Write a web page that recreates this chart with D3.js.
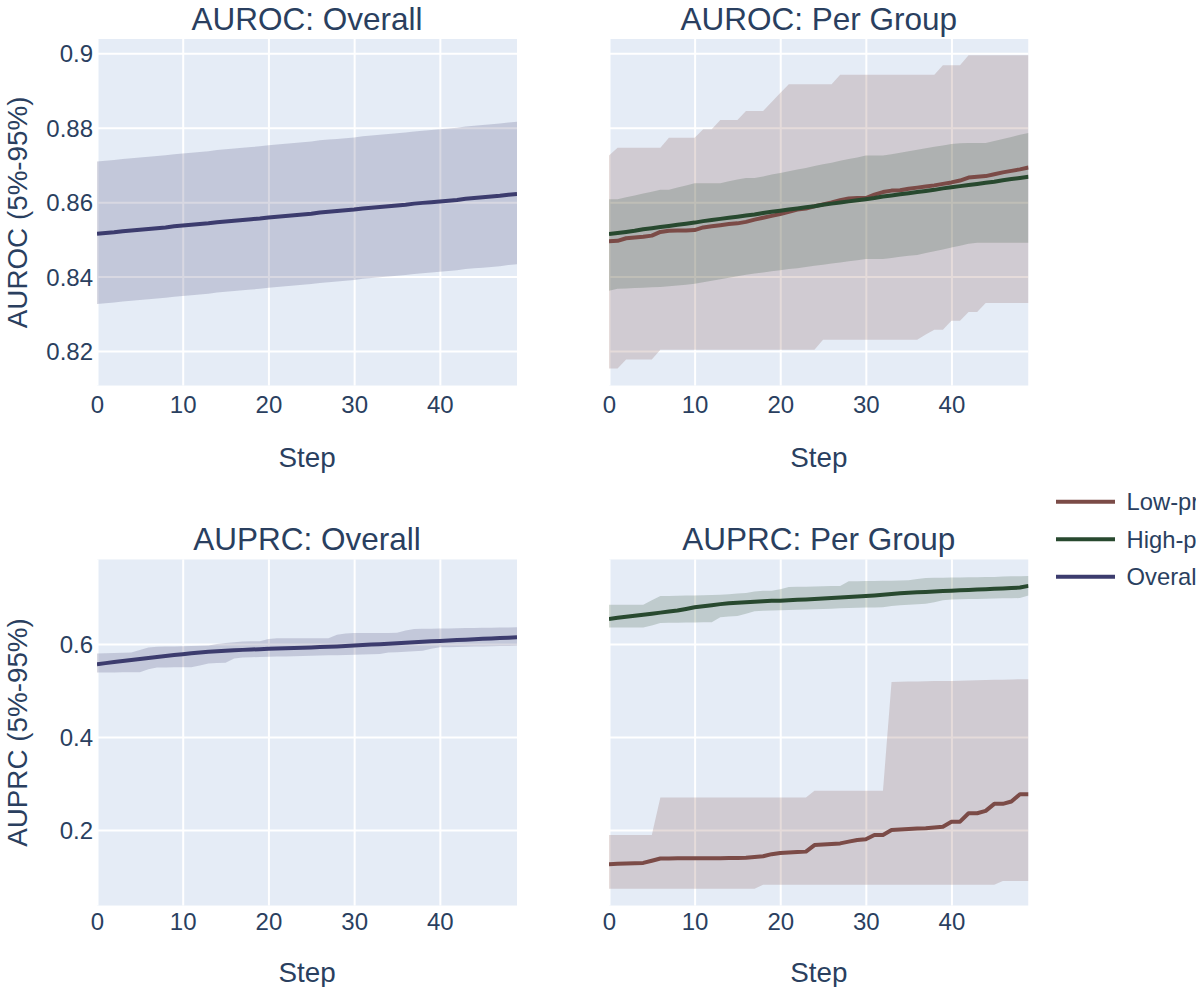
<!DOCTYPE html>
<html><head><meta charset="utf-8">
<script src="https://cdn.jsdelivr.net/npm/d3@7"></script>
<style>html,body{margin:0;padding:0;background:#fff;overflow:hidden}svg{display:block}</style>
</head><body>
<svg id="c" width="1196" height="987"></svg>
<script>
// ---------- data ----------
const steps = [0,1,2,3,4,5,6,7,8,9,10,11,12,13,14,15,16,17,18,19,20,21,22,23,24,25,26,27,28,29,30,31,32,33,34,35,36,37,38,39,40,41,42,43,44,45,46,47,48,49];
const xTicks = [0,10,20,30,40];
const aurocTicks = [0.82,0.84,0.86,0.88,0.9];
const aurocTickLabels = ["0.82","0.84","0.86","0.88","0.9"];
const auprcTicks = [0.2,0.4,0.6];
const auprcTickLabels = ["0.2","0.4","0.6"];
const legendLabels = ["Low-prevalence","High-prevalence","Overall"];

const aurocOverallMean = [.8515,.8517,.8519,.8522,.8524,.8526,.8528,.8530,.8532,.8535,.8537,.8539,.8541,.8543,.8546,.8548,.8550,.8552,.8554,.8556,.8559,.8561,.8563,.8565,.8567,.8569,.8572,.8574,.8576,.8578,.8580,.8583,.8585,.8587,.8589,.8591,.8593,.8596,.8598,.8600,.8602,.8604,.8606,.8609,.8611,.8613,.8615,.8617,.8620,.8622];
const aurocOverallHi = [.8709,.8711,.8713,.8716,.8718,.8720,.8722,.8724,.8726,.8729,.8731,.8733,.8735,.8737,.8740,.8742,.8744,.8746,.8748,.8750,.8753,.8755,.8757,.8759,.8761,.8763,.8766,.8768,.8770,.8772,.8774,.8777,.8779,.8781,.8783,.8785,.8787,.8790,.8792,.8794,.8796,.8798,.8800,.8803,.8805,.8807,.8809,.8811,.8814,.8816];
const aurocOverallLo = [.8326,.8328,.8330,.8333,.8335,.8337,.8339,.8341,.8343,.8346,.8348,.8350,.8352,.8354,.8357,.8359,.8361,.8363,.8365,.8367,.8370,.8372,.8374,.8376,.8378,.8380,.8383,.8385,.8387,.8389,.8391,.8394,.8396,.8398,.8400,.8402,.8404,.8407,.8409,.8411,.8413,.8415,.8417,.8420,.8422,.8424,.8426,.8428,.8431,.8433];

const aurocLowMean = [.8495,.8496,.8503,.8505,.8507,.8510,.8520,.8523,.8524,.8524,.8525,.8532,.8535,.8538,.8541,.8543,.8547,.8553,.8558,.8563,.8568,.8574,.8580,.8583,.8589,.8594,.8599,.8605,.8610,.8611,.8611,.8620,.8627,.8631,.8632,.8636,.8639,.8642,.8645,.8649,.8653,.8658,.8666,.8668,.8670,.8675,.8680,.8684,.8688,.8693];
const aurocLowHi = [.8725,.8746,.8746,.8746,.8746,.8746,.8746,.8773,.8773,.8773,.8773,.8796,.8796,.8821,.8821,.8821,.8845,.8845,.8845,.8869,.8893,.8917,.8917,.8917,.8917,.8917,.8917,.8942,.8942,.8942,.8942,.8942,.8942,.8942,.8942,.8942,.8942,.8942,.8942,.8968,.8968,.8968,.8995,.8995,.8995,.8995,.8995,.8995,.8995,.8995];
const aurocLowLo = [.8153,.8153,.8177,.8177,.8177,.8177,.8203,.8203,.8203,.8203,.8203,.8203,.8203,.8203,.8203,.8203,.8203,.8203,.8203,.8203,.8203,.8203,.8203,.8203,.8203,.8230,.8230,.8230,.8230,.8230,.8230,.8230,.8230,.8230,.8230,.8230,.8230,.8244,.8257,.8257,.8281,.8281,.8305,.8305,.8329,.8329,.8329,.8329,.8329,.8329];
const aurocHighMean = [.8514,.8517,.8520,.8523,.8527,.8530,.8533,.8536,.8539,.8542,.8545,.8549,.8552,.8555,.8558,.8561,.8564,.8567,.8571,.8574,.8577,.8580,.8583,.8586,.8589,.8593,.8596,.8599,.8602,.8605,.8608,.8611,.8615,.8618,.8621,.8624,.8627,.8630,.8633,.8637,.8640,.8643,.8646,.8649,.8652,.8655,.8659,.8662,.8665,.8668];
const aurocHighHi = [.8608,.8608,.8613,.8618,.8623,.8628,.8633,.8633,.8639,.8645,.8651,.8651,.8651,.8651,.8656,.8661,.8665,.8665,.8669,.8674,.8678,.8683,.8688,.8692,.8697,.8702,.8706,.8711,.8716,.8720,.8725,.8725,.8725,.8729,.8733,.8737,.8741,.8745,.8749,.8752,.8756,.8758,.8759,.8759,.8759,.8764,.8770,.8775,.8781,.8786];
const aurocHighLo = [.8362,.8367,.8368,.8369,.8370,.8371,.8372,.8374,.8376,.8378,.8381,.8385,.8389,.8393,.8397,.8401,.8405,.8408,.8411,.8414,.8417,.8420,.8422,.8426,.8429,.8432,.8435,.8438,.8441,.8444,.8447,.8447,.8447,.8450,.8453,.8456,.8458,.8463,.8468,.8473,.8478,.8483,.8488,.8491,.8491,.8491,.8491,.8491,.8491,.8491];

const auprcOverallMean = [.5567,.5589,.5611,.5633,.5655,.5676,.5698,.5720,.5741,.5762,.5782,.5800,.5817,.5833,.5846,.5857,.5866,.5874,.5882,.5890,.5897,.5903,.5909,.5915,.5921,.5927,.5934,.5941,.5949,.5958,.5967,.5977,.5987,.5997,.6007,.6017,.6027,.6037,.6047,.6057,.6066,.6075,.6084,.6093,.6102,.6111,.6120,.6128,.6136,.6144];
const auprcOverallHi = [.5798,.5800,.5805,.5810,.5815,.5870,.5925,.5942,.5945,.5948,.5951,.5955,.5962,.5966,.6000,.6020,.6040,.6055,.6058,.6060,.6110,.6123,.6123,.6123,.6123,.6123,.6123,.6125,.6200,.6225,.6238,.6238,.6238,.6238,.6238,.6240,.6290,.6324,.6327,.6330,.6333,.6336,.6339,.6342,.6345,.6348,.6351,.6354,.6357,.6361];
const auprcOverallLo = [.5388,.5389,.5390,.5392,.5393,.5395,.5460,.5495,.5497,.5499,.5501,.5503,.5540,.5582,.5590,.5597,.5690,.5712,.5716,.5721,.5725,.5730,.5734,.5739,.5743,.5748,.5752,.5757,.5761,.5766,.5770,.5775,.5779,.5784,.5815,.5825,.5835,.5845,.5856,.5900,.5928,.5932,.5936,.5940,.5944,.5948,.5952,.5956,.5960,.5964];

const auprcLowMean = [.1265,.1272,.1279,.1286,.1293,.1340,.1388,.1389,.1390,.1391,.1392,.1393,.1394,.1395,.1396,.1397,.1405,.1420,.1435,.1480,.1505,.1515,.1525,.1535,.1676,.1686,.1698,.1712,.1750,.1784,.1800,.1892,.1892,.2000,.2010,.2020,.2030,.2040,.2055,.2071,.2179,.2179,.2361,.2361,.2411,.2562,.2562,.2612,.2771,.2771];
const auprcLowHi = [.1892,.1892,.1892,.1892,.1892,.1892,.2699,.2699,.2699,.2699,.2699,.2699,.2699,.2699,.2699,.2699,.2699,.2699,.2699,.2699,.2699,.2699,.2699,.2699,.2843,.2843,.2843,.2843,.2843,.2843,.2843,.2843,.2843,.5185,.5188,.5192,.5196,.5200,.5203,.5205,.5207,.5209,.5218,.5222,.5226,.5230,.5234,.5238,.5241,.5243];
const auprcLowLo = [.0739,.0739,.0739,.0739,.0739,.0739,.0739,.0739,.0739,.0739,.0739,.0739,.0739,.0739,.0739,.0739,.0739,.0739,.0825,.0825,.0825,.0825,.0825,.0825,.0825,.0825,.0825,.0825,.0825,.0825,.0825,.0825,.0825,.0825,.0825,.0825,.0825,.0825,.0825,.0825,.0825,.0825,.0825,.0825,.0825,.0825,.0905,.0905,.0905,.0905];
const auprcHighMean = [.6540,.6563,.6585,.6608,.6630,.6653,.6675,.6698,.6720,.6755,.6790,.6813,.6835,.6858,.6878,.6890,.6900,.6910,.6920,.6928,.6932,.6940,.6950,.6960,.6970,.6980,.6990,.7000,.7010,.7020,.7031,.7045,.7060,.7075,.7090,.7103,.7111,.7120,.7129,.7138,.7147,.7155,.7163,.7171,.7179,.7187,.7195,.7205,.7215,.7250];
const auprcHighHi = [.6843,.6843,.6843,.6843,.6843,.6940,.7031,.7033,.7037,.7041,.7045,.7050,.7055,.7059,.7072,.7085,.7096,.7130,.7146,.7146,.7180,.7226,.7230,.7234,.7238,.7242,.7246,.7250,.7348,.7351,.7354,.7357,.7360,.7363,.7366,.7369,.7400,.7421,.7423,.7426,.7429,.7432,.7435,.7438,.7441,.7444,.7450,.7455,.7460,.7463];
const auprcHighLo = [.6353,.6353,.6353,.6353,.6353,.6400,.6450,.6455,.6458,.6461,.6464,.6467,.6469,.6577,.6590,.6605,.6650,.6707,.6713,.6719,.6725,.6731,.6737,.6743,.6749,.6755,.6761,.6767,.6773,.6778,.6783,.6788,.6793,.6815,.6832,.6842,.6853,.6864,.6900,.6940,.6958,.6962,.6966,.6970,.6974,.6978,.6982,.6985,.6988,.7044];

// ---------- style / layout ----------
const FONT = '"Liberation Sans", Arial, sans-serif';
const TXT = '#2a3f5f';
const C = {low:'#7b4b47', high:'#28492f', overall:'#3c3c6e'};
const BAND_ALPHA = 0.2;
const TICK_FS = '24px', AXT_FS = '27.8px', TITLE_FS = '31.5px', LEG_FS = '23.8px';
const svg = d3.select('#c');

const cols = [{x0:97, x1:517}, {x0:609, x1:1028.5}];
const rows = [
  {y0:39, y1:385.7, domain:[0.81067,0.90384], ticks:aurocTicks, labels:aurocTickLabels, ytitle:'AUROC (5%-95%)', tickBase:412.5, stepBase:467, titleBase:30},
  {y0:559.3, y1:905.7, domain:[0.0372,0.7822], ticks:auprcTicks, labels:auprcTickLabels, ytitle:'AUPRC (5%-95%)', tickBase:929.5, stepBase:982, titleBase:549.5}
];
const mk = (mean, lo, hi, color) => ({mean, lo, hi, color});
const panels = [
  {r:0, c:0, title:'AUROC: Overall', series:[mk(aurocOverallMean, aurocOverallLo, aurocOverallHi, C.overall)]},
  {r:0, c:1, title:'AUROC: Per Group', series:[mk(aurocLowMean, aurocLowLo, aurocLowHi, C.low), mk(aurocHighMean, aurocHighLo, aurocHighHi, C.high)]},
  {r:1, c:0, title:'AUPRC: Overall', series:[mk(auprcOverallMean, auprcOverallLo, auprcOverallHi, C.overall)]},
  {r:1, c:1, title:'AUPRC: Per Group', series:[mk(auprcLowMean, auprcLowLo, auprcLowHi, C.low), mk(auprcHighMean, auprcHighLo, auprcHighHi, C.high)]}
];

function rgba(hex, a){ const c = d3.rgb(hex); return `rgba(${c.r},${c.g},${c.b},${a})`; }

panels.forEach((p, i) => {
  const col = cols[p.c], row = rows[p.r];
  const x = d3.scaleLinear().domain([steps[0], steps[steps.length-1]]).range([col.x0, col.x1]);
  const y = d3.scaleLinear().domain(row.domain).range([row.y1, row.y0]);
  const w = col.x1 - col.x0, h = row.y1 - row.y0;

  svg.append('defs').append('clipPath').attr('id','clip'+i)
    .append('rect').attr('x',col.x0).attr('y',row.y0).attr('width',w).attr('height',h);

  const g = svg.append('g').attr('clip-path',`url(#clip${i})`);
  g.append('rect').attr('x',col.x0).attr('y',row.y0).attr('width',w).attr('height',h).attr('fill','#E5ECF6');

  // gridlines
  const gx = g.append('g').attr('transform',`translate(0,${row.y1})`)
    .call(d3.axisBottom(x).tickValues(xTicks).tickSize(-h).tickFormat(''));
  gx.select('.domain').remove();
  gx.selectAll('line').attr('stroke','#ffffff').attr('stroke-width',2);
  const gy = g.append('g').attr('transform',`translate(${col.x0},0)`)
    .call(d3.axisLeft(y).tickValues(row.ticks).tickSize(-w).tickFormat(''));
  gy.select('.domain').remove();
  gy.selectAll('line').attr('stroke','#ffffff').attr('stroke-width',2);

  const area = d3.area().x((d,j)=>x(steps[j])).y0(d=>y(d[0])).y1(d=>y(d[1]));
  const line = d3.line().x((d,j)=>x(steps[j])).y(d=>y(d));
  p.series.forEach(s => {
    const pairs = s.lo.map((v,j)=>[v, s.hi[j]]);
    g.append('path').attr('d', area(pairs)).attr('fill', rgba(s.color, BAND_ALPHA)).attr('stroke','none');
  });
  p.series.forEach(s => {
    g.append('path').attr('d', line(s.mean)).attr('fill','none').attr('stroke', s.color)
      .attr('stroke-width',4).attr('stroke-linejoin','round');
  });

  // x tick labels
  const ax = svg.append('g').attr('transform',`translate(0,${row.tickBase})`)
    .call(d3.axisBottom(x).tickValues(xTicks).tickSize(0).tickFormat(d3.format('d')));
  ax.select('.domain').remove();
  ax.selectAll('text').attr('y',0).attr('dy',0).attr('fill',TXT)
    .style('font-family',FONT).style('font-size',TICK_FS);

  // y tick labels (left column only)
  if (p.c === 0) {
    const ay = svg.append('g').attr('transform',`translate(${col.x0 - 4},0)`)
      .call(d3.axisLeft(y).tickValues(row.ticks).tickSize(0).tickPadding(0)
        .tickFormat((d,k)=>row.labels[k]));
    ay.select('.domain').remove();
    ay.selectAll('text').attr('x',0).attr('dy','0.36em').attr('fill',TXT)
      .style('font-family',FONT).style('font-size',TICK_FS);
    svg.append('text').attr('transform',`translate(27,${(row.y0+row.y1)/2}) rotate(-90)`)
      .attr('text-anchor','middle').attr('fill',TXT)
      .style('font-family',FONT).style('font-size',AXT_FS).text(row.ytitle);
  }

  // x axis title
  svg.append('text').attr('x',(col.x0+col.x1)/2).attr('y',row.stepBase)
    .attr('text-anchor','middle').attr('fill',TXT)
    .style('font-family',FONT).style('font-size',AXT_FS).text('Step');

  // subplot title
  svg.append('text').attr('x',(col.x0+col.x1)/2).attr('y',row.titleBase)
    .attr('text-anchor','middle').attr('fill',TXT)
    .style('font-family',FONT).style('font-size',TITLE_FS).text(p.title);
});

// legend (the reference cuts it off at the right edge of the figure)
const legendColors = [C.low, C.high, C.overall];
const legendY = d3.scalePoint().domain(legendLabels).range([501.7, 576.7]);
const lg = svg.append('g');
legendLabels.forEach((lab, k) => {
  const yy = legendY(lab);
  lg.append('line').attr('x1',1056).attr('x2',1115).attr('y1',yy).attr('y2',yy)
    .attr('stroke',legendColors[k]).attr('stroke-width',4);
  lg.append('text').attr('x',1126.5).attr('y',yy).attr('dy','0.36em').attr('fill',TXT)
    .style('font-family',FONT).style('font-size',LEG_FS).text(lab);
});
</script>
</body></html>
